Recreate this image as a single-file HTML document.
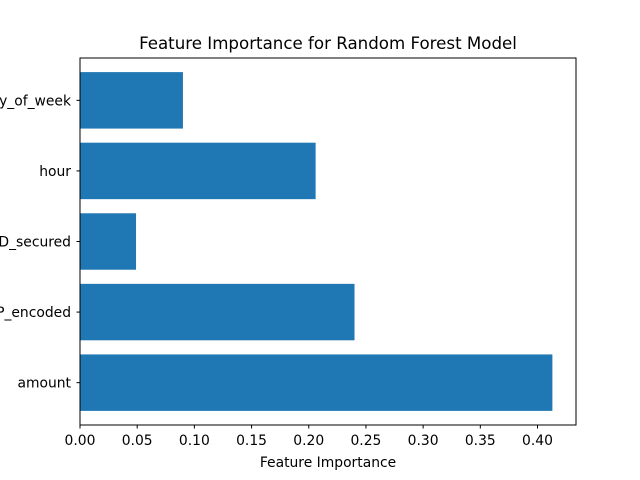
<!DOCTYPE html>
<html><head><meta charset="utf-8"><style>
body{margin:0;background:#fff}
svg{display:block;font-family:"DejaVu Sans","Liberation Sans",sans-serif}
</style></head><body>
<svg id="chart" width="640" height="480" viewBox="0 0 640 480">
<rect width="640" height="480" fill="#fff"/>
<text x="328" y="49" font-size="16.67" text-anchor="middle">Feature Importance for Random Forest Model</text>
<g id="bars"></g>
<g id="xaxis"></g>
<g id="yaxis"></g>
<rect x="80" y="58" width="496" height="367" fill="none" stroke="#000" stroke-width="1"/>
<text x="328" y="467" font-size="13.89" text-anchor="middle">Feature Importance</text>
</svg>
<script>
const categories = ["amount", "IP_encoded", "3D_secured", "hour", "day_of_week"];
const importances = [0.413, 0.240, 0.049, 0.206, 0.090];
const xTicks = [0, 0.05, 0.10, 0.15, 0.20, 0.25, 0.30, 0.35, 0.40];
const xTickLabels = ["0.00","0.05","0.10","0.15","0.20","0.25","0.30","0.35","0.40"];

const L=80,R=576,T=58,B=425;
const xMax=Math.max(...importances)*1.05;
const xs=v=>L+v/xMax*(R-L);
const yMin=-0.6,yMax=categories.length-1+0.6;
const ys=v=>B-(v-yMin)/(yMax-yMin)*(B-T);
const NS="http://www.w3.org/2000/svg";
const mk=(t,a)=>{const e=document.createElementNS(NS,t);for(const k in a)e.setAttribute(k,a[k]);return e;};
const gb=document.getElementById('bars'),gx=document.getElementById('xaxis'),gy=document.getElementById('yaxis');
categories.forEach((c,i)=>{
  const y0=ys(i+0.4),y1=ys(i-0.4);
  const r=mk('rect',{x:xs(0),y:y0,width:xs(importances[i])-xs(0),height:y1-y0,fill:'#1f77b4'});
  
  
  gb.appendChild(r);
  const tk=mk('line',{x1:L-3.5,x2:L,y1:ys(i),y2:ys(i),stroke:'#000'});
  
  
  gy.appendChild(tk);
  const t=mk('text',{x:L-9,y:ys(i)+5,'font-size':13.89,'text-anchor':'end'});
  t.textContent=c;
  
  
  gy.appendChild(t);
});
xTicks.forEach((v,i)=>{
  const tk=mk('line',{x1:xs(v),x2:xs(v),y1:B,y2:B+3.5,stroke:'#000'});
  
  
  gx.appendChild(tk);
  const t=mk('text',{x:xs(v),y:B+20,'font-size':13.89,'text-anchor':'middle'});
  t.textContent=xTickLabels[i];
  
  
  gx.appendChild(t);
});
</script>
</body></html>
